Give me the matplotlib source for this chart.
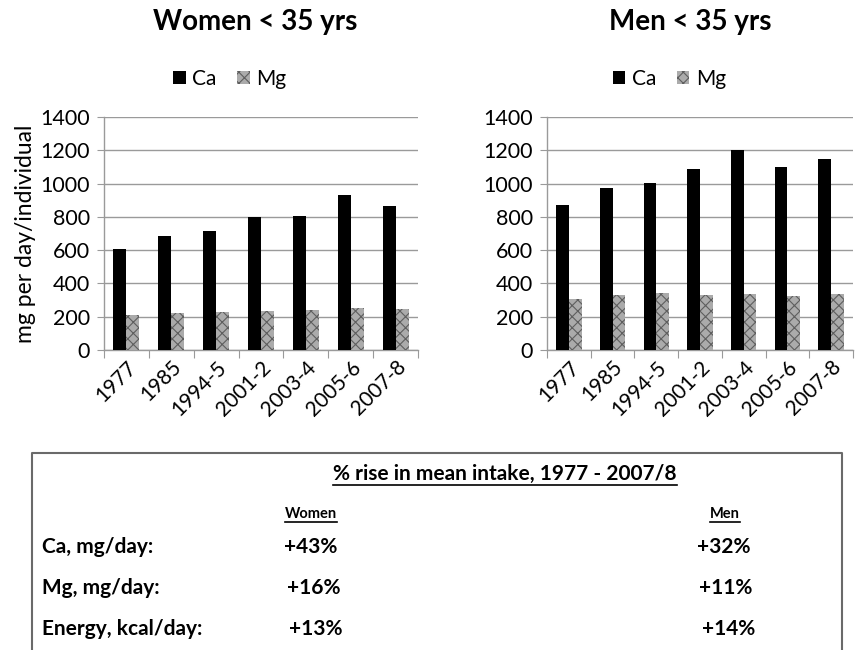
import matplotlib
matplotlib.use("Agg")
import matplotlib.pyplot as plt
import numpy as np
from matplotlib.lines import Line2D
from matplotlib.patches import Patch

plt.rcParams["font.family"] = ["Lato", "DejaVu Sans"]
plt.rcParams["hatch.linewidth"] = 0.8
plt.rcParams["hatch.color"] = "#5e5e5e"

surveys = ["1977", "1985", "1994-5", "2001-2", "2003-4", "2005-6", "2007-8"]
women_ca = [608, 682, 716, 800, 806, 932, 868]
women_mg = [210, 220, 228, 236, 240, 250, 244]
men_ca = [870, 976, 1004, 1088, 1202, 1102, 1148]
men_mg = [304, 328, 340, 328, 336, 324, 334]

rise_rows = ["Ca, mg/day:", "Mg, mg/day:", "Energy, kcal/day:"]
rise_women = ["+43%", "+16%", "+13%"]
rise_men = ["+32%", "+11%", "+14%"]

W, H = 855, 650
fig = plt.figure(figsize=(W / 100, H / 100), dpi=100)

MG_FACE = "#ababab"
MG_EDGE = "#5e5e5e"


def fx(px):
    return px / W


def fy(py):
    return 1 - py / H


def bar_panel(rect, ca, mg, ylabel=None):
    ax = fig.add_axes(rect)
    x = np.arange(len(surveys))
    bw = 0.29
    ax.bar(x - bw / 2, ca, bw, color="black", zorder=3)
    ax.bar(x + bw / 2, mg, bw, color=MG_FACE, hatch="xxx", edgecolor=MG_EDGE,
           linewidth=0, zorder=3)
    ax.set_ylim(0, 1400)
    ax.set_xlim(-0.5, len(surveys) - 0.5)
    ax.set_yticks(range(0, 1401, 200))
    ax.yaxis.grid(True, color="#9a9a9a", linewidth=1.0, zorder=0)
    ax.set_axisbelow(True)
    for side in ["top", "right"]:
        ax.spines[side].set_visible(False)
    for side in ["left", "bottom"]:
        ax.spines[side].set_color("#9a9a9a")
        ax.spines[side].set_linewidth(1.0)
    ax.tick_params(axis="y", labelsize=15.5, length=5, color="#9a9a9a", pad=5)
    # category boundaries get the tick marks, labels sit in between
    ax.set_xticks(np.arange(-0.5, len(surveys)), labels=[""] * (len(surveys) + 1))
    ax.tick_params(axis="x", which="major", length=6, color="#9a9a9a")
    ax.set_xticks(x, labels=surveys, minor=True)
    ax.tick_params(axis="x", which="minor", length=0, labelsize=15, pad=5)
    for lab in ax.get_xticklabels(minor=True):
        lab.set_rotation(45)
        lab.set_ha("right")
        lab.set_va("top")
        lab.set_rotation_mode("anchor")
    if ylabel:
        ax.set_ylabel(ylabel, fontsize=16.5, labelpad=3)
    handles = [Patch(facecolor="black", label="Ca"),
               Patch(facecolor=MG_FACE, hatch="xxx", edgecolor=MG_EDGE,
                     linewidth=0, label="Mg")]
    ax.legend(handles=handles, loc="center", bbox_to_anchor=(0.40, 1.165), ncol=2,
              frameon=False, fontsize=15, handlelength=0.6, handleheight=0.6,
              handletextpad=0.3, columnspacing=1.0)
    return ax


ax_w = bar_panel([fx(104), fy(350), fx(418) - fx(104), fy(117) - fy(350)],
                 women_ca, women_mg, ylabel="mg per day/individual")
ax_m = bar_panel([fx(547), fy(350), fx(853) - fx(547), fy(117) - fy(350)],
                 men_ca, men_mg)

fig.text(fx(255), fy(22), "Women < 35 yrs", ha="center", va="center",
         fontsize=20, fontweight="bold")
fig.text(fx(690), fy(22), "Men < 35 yrs", ha="center", va="center",
         fontsize=20, fontweight="bold")

# summary box, open at the bottom edge of the picture
box_top, box_left, box_right = 453, 32, 842
fig.add_artist(Line2D([fx(box_left), fx(box_left), fx(box_right), fx(box_right)],
                      [fy(H + 5), fy(box_top), fy(box_top), fy(H + 5)],
                      color="#6a6a6a", linewidth=1.5))

under = []
under.append(fig.text(fx(505), fy(474), "% rise in mean intake, 1977 - 2007/8",
                      ha="center", va="center", fontsize=15, fontweight="bold"))
under.append(fig.text(fx(311), fy(514), "Women", ha="center", va="center",
                      fontsize=10.5, fontweight="bold"))
under.append(fig.text(fx(725), fy(514), "Men", ha="center", va="center",
                      fontsize=10.5, fontweight="bold"))

row_y = [547, 588, 629]
women_x = [284, 287, 289]
men_x = [697, 699, 702]
for i, label in enumerate(rise_rows):
    fig.text(fx(42), fy(row_y[i]), label, ha="left", va="center",
             fontsize=15, fontweight="bold")
    fig.text(fx(women_x[i]), fy(row_y[i]), rise_women[i], ha="left", va="center",
             fontsize=15, fontweight="bold")
    fig.text(fx(men_x[i]), fy(row_y[i]), rise_men[i], ha="left", va="center",
             fontsize=15, fontweight="bold")

# underline the headings
fig.canvas.draw()
renderer = fig.canvas.get_renderer()
for t in under:
    bb = t.get_window_extent(renderer)
    y = bb.y0 - 1
    fig.add_artist(Line2D([bb.x0 / W, bb.x1 / W], [y / H, y / H],
                          color="black", linewidth=1.2))

fig.savefig("out.png", dpi=100)
